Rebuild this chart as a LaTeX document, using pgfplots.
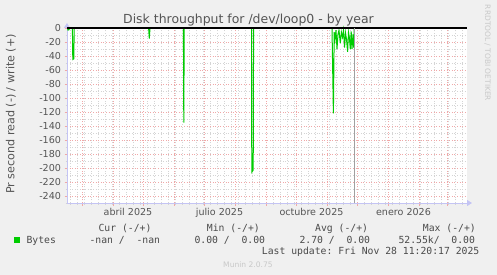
\documentclass[border=0pt]{standalone}
\usepackage{fontspec}
\setmainfont{DejaVu Sans}
\setmonofont{DejaVu Sans Mono}
\usepackage{pgfplots}
\pgfplotsset{compat=1.18}
\usetikzlibrary{arrows.meta}
\definecolor{bgc}{HTML}{F0F0F0}
\definecolor{munin}{HTML}{00CC00}
\definecolor{txt}{HTML}{555555}
\definecolor{legtxt}{HTML}{4A4A4A}
\definecolor{majgrid}{HTML}{F0A8A8}
\definecolor{mingrid}{HTML}{D4D4D4}
\definecolor{axcol}{HTML}{C4C4F4}
\definecolor{vline}{HTML}{A0A0A0}
\definecolor{faint}{HTML}{C8C8C8}
\begin{document}
\begin{tikzpicture}
\fill[bgc] (0,0) rectangle (497bp,275bp);
\useasboundingbox (0,0) rectangle (497bp,275bp);
\begin{axis}[
  at={(67bp,72bp)}, anchor=south west,
  width=400bp, height=175bp, scale only axis,
  xmin=-15, xmax=385, ymin=-250, ymax=0,
  clip=false,
  axis background/.style={fill=white},
  axis lines=left,
  x axis line style={axcol, line width=1bp, -{Triangle[length=5bp,width=6bp]}, shorten >=-5bp},
  y axis line style={axcol, line width=1bp, -{Triangle[length=5bp,width=6bp]}, shorten >=-5bp},
  grid=both,
  major grid style={majgrid, dash pattern=on 1bp off 1.6bp, line width=0.8bp},
  minor grid style={mingrid, dash pattern=on 1bp off 1.6bp, line width=0.7bp},
  xtick={0,31,61,92,122,153,184,214,245,275,306,337,365},
  xticklabels={},
  minor xtick={-12,-5,...,383},
  extra x ticks={46,137.5,229.5,321.5},
  extra x tick labels={abril 2025, julio 2025, octubre 2025, enero 2026},
  extra x tick style={grid=none, major tick length=0pt, xticklabel style={yshift=-2bp}},
  ytick={-240,-220,...,0},
  yticklabels={-240,-220,-200,-180,-160,-140,-120,-100,-80,-60,-40,-20,0},
  minor ytick={-250,-230,...,-10},
  tick align=outside,
  major tick length=2.5bp,
  minor tick length=1.5bp,
  major tick style={majgrid, line width=0.8bp},
  minor tick style={mingrid, line width=0.8bp},
  tick label style={font=\fontsize{9.6}{10}\selectfont, text=txt},
]
\addplot[munin, line width=1bp] coordinates {
  (-15,0) (-14.5,0) (-14,-3) (-13,-2.5) (-12.5,0)
  (-9.6,0) (-9.2,-45) (-8.2,-44) (-7.8,0)
  (66.6,0) (67.3,-15) (68,0)
  (101.4,0) (101.8,-135) (102.2,0)
  (169.5,0) (169.8,-206) (171.2,-203) (171.6,0)
  (250,0) (251.4,-122) (252.2,-6) (253,-16) (254,-3) (255,-30) (256,-9) (257,-3)
  (258.3,-22) (259.4,-6) (260.5,-13) (261.5,-3) (262.6,-28) (263.5,-7) (264.5,-16)
  (265.6,-34) (266.5,-6) (267.3,-13) (268.3,-30) (269.2,-5) (270,-30) (271,-9)
  (271.7,-28) (272.2,0)
};
\addplot[black, line width=1.2bp] coordinates {(-15,0) (385,0)};
\addplot[vline, line width=1bp] coordinates {(272.6,-250) (272.6,0)};
\end{axis}
% title
\node[anchor=base, text=txt, font=\fontsize{12.5}{14}\selectfont, inner sep=0pt]
  at (248.5bp,251.8bp) {Disk throughput for /dev/loop0 - by year};
% y label
\node[rotate=90, anchor=center, text=txt, font=\fontsize{11.2}{13}\selectfont, inner sep=0pt]
  at (10.8bp,161bp) {Pr second read (-) / write (+)};
% rrdtool credit
\node[rotate=-90, anchor=center, text=faint, font=\fontsize{7.5}{9}\selectfont, inner sep=0pt]
  at (487.5bp,222bp) {RRDTOOL / TOBI OETIKER};
% legend
\begin{scope}[every node/.style={anchor=base west, inner sep=0pt, text=legtxt, font=\ttfamily\fontsize{9.8}{11}\selectfont}]
\node at (98.3bp,43.5bp) {Cur (-/+)};
\node at (206.7bp,43.5bp) {Min (-/+)};
\node at (315bp,43.5bp) {Avg (-/+)};
\node at (422.7bp,43.5bp) {Max (-/+)};
\node at (26.3bp,31.5bp) {Bytes};
\node at (89.3bp,31.5bp) {-nan /\ \ -nan};
\node at (194.3bp,31.5bp) {0.00 /\ \ 0.00};
\node at (299.3bp,31.5bp) {2.70 /\ \ 0.00};
\node at (398.3bp,31.5bp) {52.55k/\ \ 0.00};
\node at (261.7bp,20.5bp) {Last update: Fri Nov 28 11:20:17 2025};
\end{scope}
\node[anchor=base west, inner sep=0pt] at (14bp,32.5bp) {\textcolor{munin}{\rule{5.5bp}{5.5bp}}};
\node[anchor=base, inner sep=0pt, text=faint, font=\fontsize{7.6}{9}\selectfont] at (248bp,7.5bp) {Munin 2.0.75};
\end{tikzpicture}
\end{document}
